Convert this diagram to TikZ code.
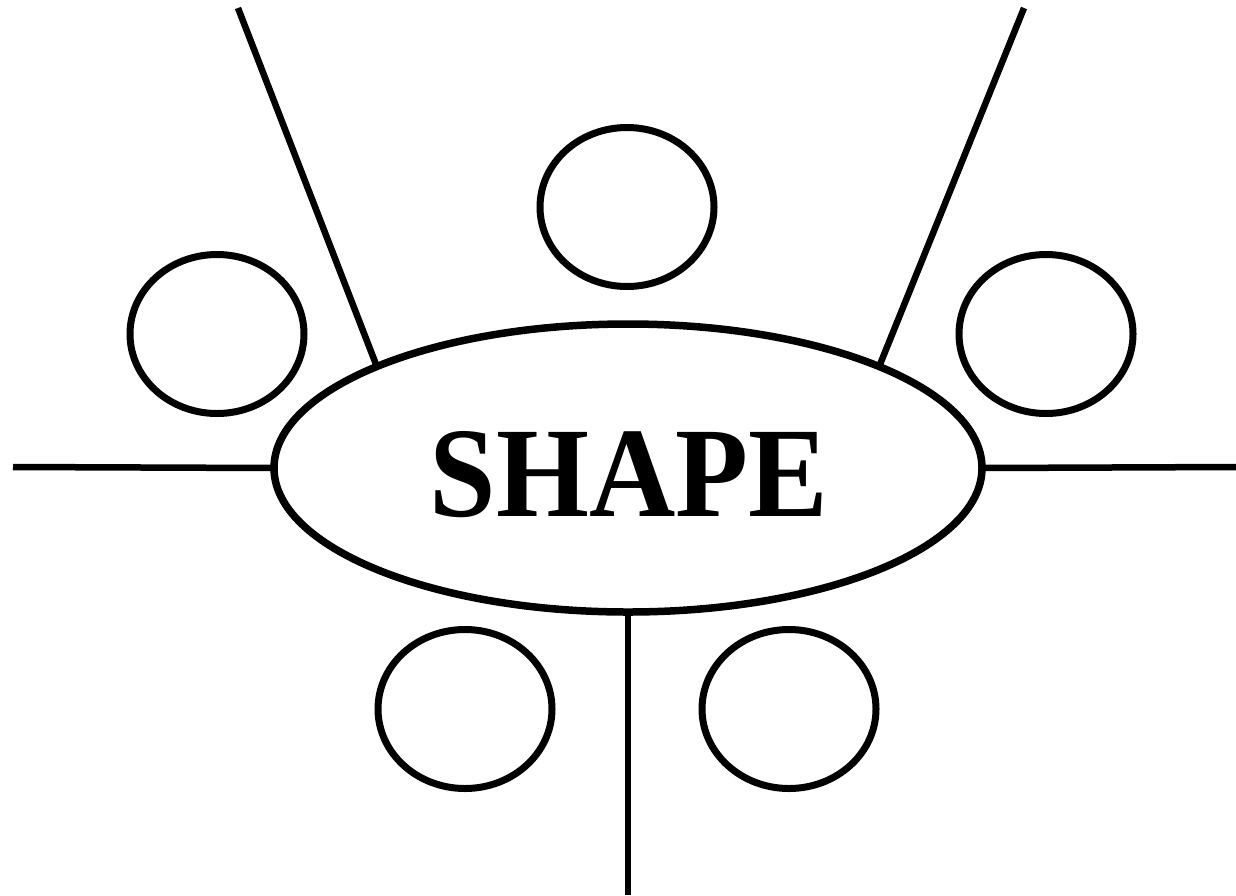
\documentclass[tikz,border=0pt]{standalone}
\usepackage{fontspec}
\setmainfont{Liberation Serif}
\usetikzlibrary{shapes.geometric}
\tikzset{
  bub/.style={ellipse,draw,line width=7pt,minimum width=174pt,minimum height=159pt,inner sep=0pt,outer sep=0pt},
  ray/.style={line width=6.5pt},
}
\begin{document}
\begin{tikzpicture}[x=1pt,y=-1pt]
\useasboundingbox (0,0) rectangle (1236,895);
\node[ellipse,draw,line width=7.5pt,minimum width=708pt,minimum height=288pt,inner sep=0pt,outer sep=0pt] (shape) at (628,468) {};
\node[inner sep=0pt] (lbl) at (629,474.5) {\resizebox{398pt}{85pt}{\bfseries SHAPE}};
\node[bub] (ctop) at (627,207) {};
\node[bub] (cleft) at (217,334) {};
\node[bub] (cright) at (1046,334) {};
\node[bub] (cbl) at (465,709) {};
\node[bub] (cbr) at (789,709) {};
\coordinate (ul) at (238,8);
\coordinate (ur) at (1024,8);
\coordinate (le) at (13,467);
\coordinate (re) at (1236,467);
\coordinate (bo) at (628,895);
\draw[ray] (ul) -- (shape.158.2);
\draw[ray] (ur) -- (shape.22.4);
\draw[ray] (le) -- (shape.west);
\draw[ray] (re) -- (shape.east);
\draw[ray] (bo) -- (shape.south);
\end{tikzpicture}
\end{document}
